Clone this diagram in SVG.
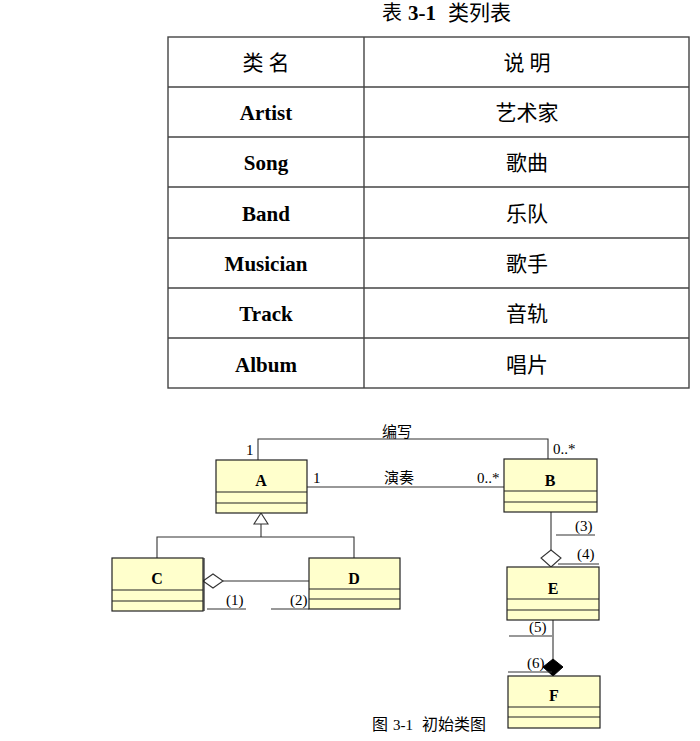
<svg xmlns="http://www.w3.org/2000/svg" width="700" height="741" viewBox="0 0 700 741">
<style>
.tl{stroke:#444;stroke-width:1.4;fill:none}
.tt{font-family:"Liberation Serif","Noto Sans CJK SC",serif;font-size:21px;text-anchor:middle;fill:#000}
.tb{font-weight:bold}
.cls{fill:#FFFFCC;stroke:#222;stroke-width:1.2}
.div{stroke:#222;stroke-width:1.2}
.cn{font-family:"Liberation Serif",serif;font-weight:bold;font-size:16px;text-anchor:middle;fill:#000}
.ln{stroke:#333;stroke-width:1.1;fill:none}
.lb{font-family:"Noto Sans CJK SC","Liberation Sans",sans-serif;font-size:15px;fill:#000}
.mult{font-family:"Liberation Serif",serif;font-size:15px;fill:#000}
</style>
<rect width="700" height="741" fill="#fff"/>
<!-- Title -->
<g id="title">
<text x="382" y="20" class="tt" style="font-size:20px;text-anchor:start">表</text>
<text x="422" y="20" class="tt tb" style="font-size:21px">3-1</text>
<text x="448" y="20" class="tt" style="font-size:21px;text-anchor:start">类列表</text>
</g>
<!-- Table -->
<g id="table">
<rect x="168" y="37" width="521" height="351" class="tl"/>
<line x1="364" y1="37" x2="364" y2="388" class="tl"/>
<line x1="168" y1="87" x2="689" y2="87" class="tl"/>
<line x1="168" y1="137" x2="689" y2="137" class="tl"/>
<line x1="168" y1="187" x2="689" y2="187" class="tl"/>
<line x1="168" y1="238" x2="689" y2="238" class="tl"/>
<line x1="168" y1="288" x2="689" y2="288" class="tl"/>
<line x1="168" y1="338" x2="689" y2="338" class="tl"/>
<text x="266" y="70" class="tt">类 名</text>
<text x="527" y="70" class="tt">说 明</text>
<text x="266" y="120" class="tt tb">Artist</text>
<text x="527" y="120" class="tt">艺术家</text>
<text x="266" y="170" class="tt tb">Song</text>
<text x="527" y="170" class="tt">歌曲</text>
<text x="266" y="221" class="tt tb">Band</text>
<text x="527" y="221" class="tt">乐队</text>
<text x="266" y="271" class="tt tb">Musician</text>
<text x="527" y="271" class="tt">歌手</text>
<text x="266" y="321" class="tt tb">Track</text>
<text x="527" y="321" class="tt">音轨</text>
<text x="266" y="372" class="tt tb">Album</text>
<text x="527" y="372" class="tt">唱片</text>
</g>
<!-- Connectors -->
<g id="connectors">
<polyline points="258,460 258,439 548,439 548,459" class="ln"/>
<line x1="307" y1="487" x2="504" y2="487" class="ln"/>
<polygon points="261,513 254,524 268,524" fill="#fff" stroke="#333" stroke-width="1.1"/>
<polyline points="261,524 261,537" class="ln"/>
<polyline points="157,558 157,537 354,537 354,558" class="ln"/>
<line x1="223" y1="581" x2="309" y2="581" class="ln"/>
<polygon points="203,581 213,574 223,581 213,588" fill="#fff" stroke="#333" stroke-width="1.1"/>
<line x1="551" y1="512" x2="551" y2="550" class="ln"/>
<polygon points="551,550 561,558 551,567 541,558" fill="#fff" stroke="#333" stroke-width="1.1"/>
<line x1="553" y1="620" x2="553" y2="659" class="ln"/>
<polygon points="553,659 563,667 553,676 543,667" fill="#000" stroke="#000" stroke-width="1"/>
<!-- labels -->
<text x="382" y="437" class="lb">编写</text>
<text x="384" y="483" class="lb">演奏</text>
<text x="246" y="455" class="mult">1</text>
<text x="313" y="483" class="mult">1</text>
<text x="553" y="454" class="mult">0..*</text>
<text x="477" y="483" class="mult">0..*</text>
<!-- blanks -->
<line x1="207" y1="609" x2="246" y2="609" class="ln"/>
<text x="226" y="605" class="mult">(1)</text>
<line x1="271" y1="609" x2="309" y2="609" class="ln"/>
<text x="290" y="605" class="mult">(2)</text>
<line x1="556" y1="535" x2="595" y2="535" class="ln"/>
<text x="575" y="531" class="mult">(3)</text>
<line x1="558" y1="564" x2="599" y2="564" class="ln"/>
<text x="577" y="559" class="mult">(4)</text>
<line x1="509" y1="636" x2="552" y2="636" class="ln"/>
<text x="529" y="632" class="mult">(5)</text>
<line x1="508" y1="672" x2="552" y2="672" class="ln"/>
<text x="527" y="668" class="mult">(6)</text>
</g>
<g id="A">
<rect x="216" y="460" width="91" height="53" class="cls"/>
<line x1="216" y1="492" x2="307" y2="492" class="div"/>
<line x1="216" y1="503" x2="307" y2="503" class="div"/>
<text x="261" y="486" class="cn">A</text>
</g>
<g id="B">
<rect x="504" y="459" width="93" height="53" class="cls"/>
<line x1="504" y1="491" x2="597" y2="491" class="div"/>
<line x1="504" y1="502" x2="597" y2="502" class="div"/>
<text x="550" y="486" class="cn">B</text>
</g>
<g id="C">
<rect x="112" y="558" width="91" height="53" class="cls"/>
<line x1="112" y1="590" x2="203" y2="590" class="div"/>
<line x1="112" y1="601" x2="203" y2="601" class="div"/>
<line x1="204" y1="558" x2="204" y2="611" class="div"/>
<text x="157" y="584" class="cn">C</text>
</g>
<g id="D">
<rect x="309" y="558" width="91" height="51" class="cls"/>
<line x1="309" y1="589" x2="400" y2="589" class="div" stroke-width="2"/>
<line x1="309" y1="599" x2="400" y2="599" class="div" stroke-width="2"/>
<text x="354" y="584" class="cn">D</text>
</g>
<g id="E">
<rect x="507" y="567" width="92" height="53" class="cls"/>
<line x1="507" y1="599" x2="599" y2="599" class="div"/>
<line x1="507" y1="610" x2="599" y2="610" class="div"/>
<text x="553" y="594" class="cn">E</text>
</g>
<g id="F">
<rect x="508" y="676" width="92" height="52" class="cls"/>
<line x1="508" y1="707" x2="600" y2="707" class="div"/>
<line x1="508" y1="717" x2="600" y2="717" class="div"/>
<text x="554" y="701" class="cn">F</text>
</g>
<g id="caption">
<text x="372" y="730" class="lb" style="font-size:16px">图</text>
<text x="393" y="730" class="mult">3-1</text>
<text x="422" y="730" class="lb" style="font-size:16px">初始类图</text>
</g>
</svg>
